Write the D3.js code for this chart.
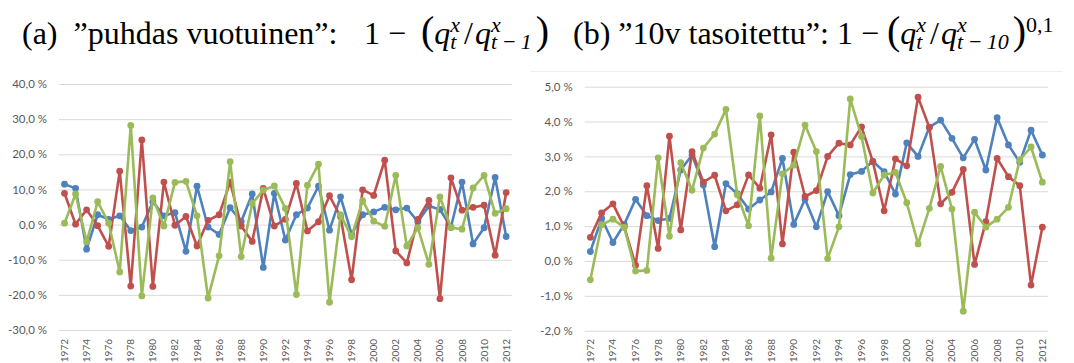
<!DOCTYPE html>
<html>
<head>
<meta charset="utf-8">
<script src="https://cdn.jsdelivr.net/npm/d3@7"></script>
<style>
  body { margin: 0; background: #fff; }
  svg { display: block; }
</style>
</head>
<body>
<svg id="chart"></svg>
<script>
// categories
var years = [1972,1973,1974,1975,1976,1977,1978,1979,1980,1981,1982,1983,1984,1985,1986,1987,1988,1989,1990,1991,
             1992,1993,1994,1995,1996,1997,1998,1999,2000,2001,2002,2003,2004,2005,2006,2007,2008,2009,2010,2011,2012];
var tickYears = [1972,1974,1976,1978,1980,1982,1984,1986,1988,1990,1992,1994,1996,1998,2000,2002,2004,2006,2008,2010,2012];

// (a) "puhdas vuotuinen", %
var aTicks = [-30,-20,-10,0,10,20,30,40];
var aBlue  = [11.5,10.3,-7.0,2.8,1.5,2.5,-1.7,-0.7,6.5,2.5,3.4,-7.6,10.9,-0.7,-2.8,4.8,0.9,8.7,-12.2,8.9,
              -4.4,2.8,4.7,10.9,-1.6,7.9,-2.7,2.8,3.6,4.9,4.2,4.7,0.8,5.3,4.3,-0.7,12.1,-5.5,-0.9,13.4,-3.4];
var aRed   = [8.9,0.1,4.2,-0.3,-6.2,15.2,-17.5,24.1,-17.6,12.1,-0.2,2.3,-6.1,1.2,2.8,12.1,-0.4,-4.8,10.3,-0.4,
              1.5,11.7,-1.8,0.8,8.2,2.2,-15.7,9.9,8.3,18.3,-7.5,-10.9,1.5,6.9,-21.1,13.3,4.1,4.9,5.5,-8.7,9.1];
var aGreen = [0.4,8.7,-4.9,6.5,0.4,-13.5,28.2,-20.3,7.6,-0.4,12.0,12.3,2.5,-20.9,-8.9,17.9,-9.1,6.0,9.8,11.0,
              4.6,-19.9,11.2,17.2,-22.1,2.8,-3.5,6.8,1.0,-0.5,14.0,-6.1,-0.9,-11.3,7.9,-0.9,-1.3,10.4,14.0,3.2,4.5];

// (b) "10v tasoitettu", %
var bTicks = [-2,-1,0,1,2,3,4,5];
var bBlue  = [0.27,1.22,0.53,1.05,1.77,1.3,1.16,1.22,2.61,3.04,2.18,0.41,2.22,1.93,1.49,1.75,1.98,2.94,1.05,1.77,
              0.98,1.99,1.3,2.48,2.57,2.86,2.56,1.92,3.39,3.0,3.84,4.04,3.52,2.96,3.49,2.61,4.11,3.33,2.83,3.75,3.04];
var bRed   = [0.68,1.38,1.64,0.98,-0.12,2.16,0.36,3.58,0.89,3.14,2.26,2.46,1.44,1.61,2.47,2.09,3.62,0.49,3.12,1.85,
              2.02,3.0,3.38,3.33,3.85,2.85,1.44,2.93,2.73,4.7,3.83,1.64,1.97,2.63,-0.1,1.13,2.94,2.42,2.16,-0.69,0.97];
var bGreen = [-0.54,1.04,1.2,0.96,-0.29,-0.27,2.96,0.71,2.82,2.03,3.24,3.64,4.35,1.9,1.01,4.16,0.08,2.5,2.75,3.9,
              3.14,0.07,0.98,4.65,3.57,1.95,2.47,2.54,1.67,0.49,1.51,2.71,1.49,-1.44,1.4,0.97,1.2,1.54,2.9,3.27,2.26];

var seriesColors = ['#4F81BD', '#C0504D', '#9BBB59'];

function pctFormat(v) {
    return (v < 0 ? '-' : '') + Math.abs(v).toFixed(1).replace('.', ',') + ' %';
}

const svg = d3.select('#chart').attr('width', 1074).attr('height', 363);

class LinePanel {
    constructor(_config, _series) {
        this.config = {
            left: _config.left,
            right: _config.right,
            top: _config.top,
            bottom: _config.bottom,
            ticks: _config.ticks,
            labelY: _config.labelY || 339
        }
        this.series = _series;
        this.initVis();
    }

    initVis() {
        let vis = this;
        vis.chart = svg.append('g');

        vis.xScale = d3.scaleBand()
            .domain(years)
            .range([vis.config.left, vis.config.right])
            .padding(0);
        vis.yScale = d3.scaleLinear()
            .domain(d3.extent(vis.config.ticks))
            .range([vis.config.bottom, vis.config.top]);

        // y axis + gridlines
        vis.yAxis = d3.axisLeft(vis.yScale)
            .tickValues(vis.config.ticks)
            .tickSize(-(vis.config.right - vis.config.left))
            .tickPadding(12)
            .tickFormat(pctFormat);
        vis.yAxisGroup = vis.chart.append('g')
            .attr('class', 'axis y-axis')
            .attr('transform', `translate(${vis.config.left},0)`)
            .call(vis.yAxis);
        vis.yAxisGroup.select('.domain').remove();
        vis.yAxisGroup.selectAll('line').attr('stroke', '#d9d9d9');
        vis.yAxisGroup.selectAll('text')
            .attr('fill', '#595959')
            .attr('font-family', 'Lato, sans-serif')
            .attr('font-size', '11.5px');

        // x axis, rotated labels
        vis.xAxis = d3.axisBottom(vis.xScale)
            .tickValues(tickYears)
            .tickSize(0);
        vis.xAxisGroup = vis.chart.append('g')
            .attr('class', 'axis x-axis')
            .attr('transform', `translate(0,${vis.config.labelY})`)
            .call(vis.xAxis);
        vis.xAxisGroup.select('.domain').remove();
        vis.xAxisGroup.selectAll('text')
            .attr('transform', 'rotate(-90)')
            .attr('text-anchor', 'end')
            .attr('x', 0)
            .attr('y', 0)
            .attr('dy', '0.35em')
            .attr('fill', '#595959')
            .attr('font-family', 'Lato, sans-serif')
            .attr('font-size', '10px');

        vis.renderVis();
    }

    renderVis() {
        let vis = this;
        const cx = d => vis.xScale(d.year) + vis.xScale.bandwidth() / 2;
        const line = d3.line().x(cx).y(d => vis.yScale(d.value));

        vis.series.forEach((vals, i) => {
            const pts = years.map((y, j) => ({year: y, value: vals[j]}));
            vis.chart.append('path')
                .datum(pts)
                .attr('fill', 'none')
                .attr('stroke', seriesColors[i])
                .attr('stroke-width', 2.6)
                .attr('stroke-linejoin', 'round')
                .attr('d', line);
            vis.chart.selectAll('.dot' + i)
                .data(pts)
                .join('circle')
                .attr('class', 'dot' + i)
                .attr('cx', cx)
                .attr('cy', d => vis.yScale(d.value))
                .attr('r', 3.4)
                .attr('fill', seriesColors[i]);
        });
    }
}

// faint chart-area border of panel (b)
svg.append('line')
    .attr('x1', 530).attr('x2', 1063)
    .attr('y1', 71.5).attr('y2', 71.5)
    .attr('stroke', '#eeeeee');

new LinePanel({left: 59, right: 511.7, top: 84, bottom: 330, ticks: aTicks}, [aBlue, aRed, aGreen]);
new LinePanel({left: 584.7, right: 1048, top: 86.7, bottom: 330.7, ticks: bTicks}, [bBlue, bRed, bGreen]);

// title: one text element, formula pieces as tspans placed left to right
const titleFont = '"Liberation Serif", "Times New Roman", serif';
function measure(txt, size, italic) {
    const tmp = svg.append('text')
        .attr('font-family', titleFont)
        .attr('font-size', size + 'px')
        .attr('font-style', italic ? 'italic' : 'normal')
        .style('white-space', 'pre')
        .text(txt);
    const w = tmp.node().getComputedTextLength();
    tmp.remove();
    return w;
}
function drawTitle(x0, baseline, parts) {
    let cursor = x0;
    const text = svg.append('text')
        .attr('font-family', titleFont)
        .attr('fill', '#000')
        .style('white-space', 'pre');
    function put(txt, size, italic, dy, advance) {
        text.append('tspan')
            .attr('x', cursor)
            .attr('y', baseline + dy)
            .attr('font-size', size + 'px')
            .attr('font-style', italic ? 'italic' : 'normal')
            .text(txt);
        const w = measure(txt, size, italic);
        if (advance) cursor += w;
        return w;
    }
    parts.forEach(p => {
        if (p.at !== undefined) cursor = p.at;
        if (p.gap) cursor += p.gap;
        if (p.sup !== undefined || p.sub !== undefined) {
            const start = cursor;
            let w1 = 0, w2 = 0;
            if (p.sup !== undefined) w1 = put(p.sup, 22, p.supIt !== false, -12, false);
            if (p.sub !== undefined) w2 = put(p.sub, 22, true, 5, false);
            cursor = start + Math.max(w1, w2) + 2;
        } else if (p.t !== undefined) {
            put(p.t, p.size || 32, !!p.it, 0, true);
        }
    });
}

drawTitle(22, 44, [
    {t: '(a)  ”puhdas vuotuinen”:'},
    {at: 364, t: '1 − '},
    {at: 421, t: '(', size: 40},
    {t: 'q', it: true}, {sup: 'x', sub: 't'},
    {gap: 2, t: '/'},
    {gap: 2, t: 'q', it: true}, {sup: 'x', sub: 't\u2009−\u20091'},
    {gap: 2, t: ')', size: 40}
]);
drawTitle(573, 44, [
    {t: '(b) ”10v tasoitettu”:'},
    {t: ' 1 − '},
    {t: '(', size: 40},
    {t: 'q', it: true}, {sup: 'x', sub: 't'},
    {gap: 2, t: '/'},
    {gap: 2, t: 'q', it: true}, {sup: 'x', sub: 't\u2009−\u200910'},
    {gap: 2, t: ')', size: 40},
    {sup: '0,1', supIt: false}
]);
</script>
</body>
</html>
